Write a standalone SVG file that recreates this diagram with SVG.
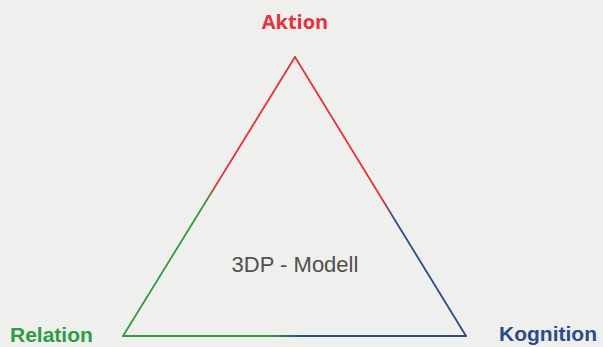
<svg xmlns="http://www.w3.org/2000/svg" width="603" height="347" viewBox="0 0 603 347">
  <style>
    .bg { fill: #efefed; }
    .edge { fill: none; stroke-width: 1.8; stroke-linecap: round; }
    .pole { font-family: "Liberation Sans", Arial, sans-serif; font-weight: bold; font-size: 21px; }
    .aktion { font-family: "Open Sans", "Liberation Sans", sans-serif; font-weight: bold; font-size: 20px; fill: #e3333d; }
    .relation { fill: #2f9b45; }
    .kognition { fill: #2c4b8c; }
    .title { font-family: "Liberation Sans", Arial, sans-serif; font-size: 22px; fill: #505050; }
  </style>
  <defs>
    <!-- each side blends between the colours of its two corners -->
    <linearGradient id="gLeft" gradientUnits="userSpaceOnUse" x1="295" y1="57" x2="123" y2="336">
      <stop offset="0" stop-color="#e3333d"/>
      <stop offset="0.45" stop-color="#e3333d"/>
      <stop offset="0.52" stop-color="#2f9b45"/>
      <stop offset="1" stop-color="#2f9b45"/>
    </linearGradient>
    <linearGradient id="gRight" gradientUnits="userSpaceOnUse" x1="295" y1="57" x2="466" y2="336">
      <stop offset="0" stop-color="#e3333d"/>
      <stop offset="0.5" stop-color="#e3333d"/>
      <stop offset="0.59" stop-color="#2c4b8c"/>
      <stop offset="1" stop-color="#2c4b8c"/>
    </linearGradient>
    <linearGradient id="gBottom" gradientUnits="userSpaceOnUse" x1="123" y1="336" x2="466" y2="336">
      <stop offset="0" stop-color="#2f9b45"/>
      <stop offset="0.43" stop-color="#2f9b45"/>
      <stop offset="0.52" stop-color="#2c4b8c"/>
      <stop offset="1" stop-color="#2c4b8c"/>
    </linearGradient>
  </defs>

  <rect class="bg" x="0" y="0" width="603" height="347"/>

  <g id="connectors">
    <path class="edge" stroke="url(#gLeft)" d="M295,57 L123,336"/>
    <path class="edge" stroke="url(#gRight)" d="M295,57 L466,336"/>
    <path class="edge" stroke="url(#gBottom)" d="M123,336 L466,336"/>
  </g>

  <g id="node-aktion">
    <text class="aktion" x="295" y="29" text-anchor="middle">Aktion</text>
  </g>
  <g id="node-relation">
    <text class="pole relation" x="10" y="342">Relation</text>
  </g>
  <g id="node-kognition">
    <text class="pole kognition" x="499" y="341">Kognition</text>
  </g>
  <g id="node-modell">
    <text class="title" x="295" y="272" text-anchor="middle">3DP - Modell</text>
  </g>
</svg>
